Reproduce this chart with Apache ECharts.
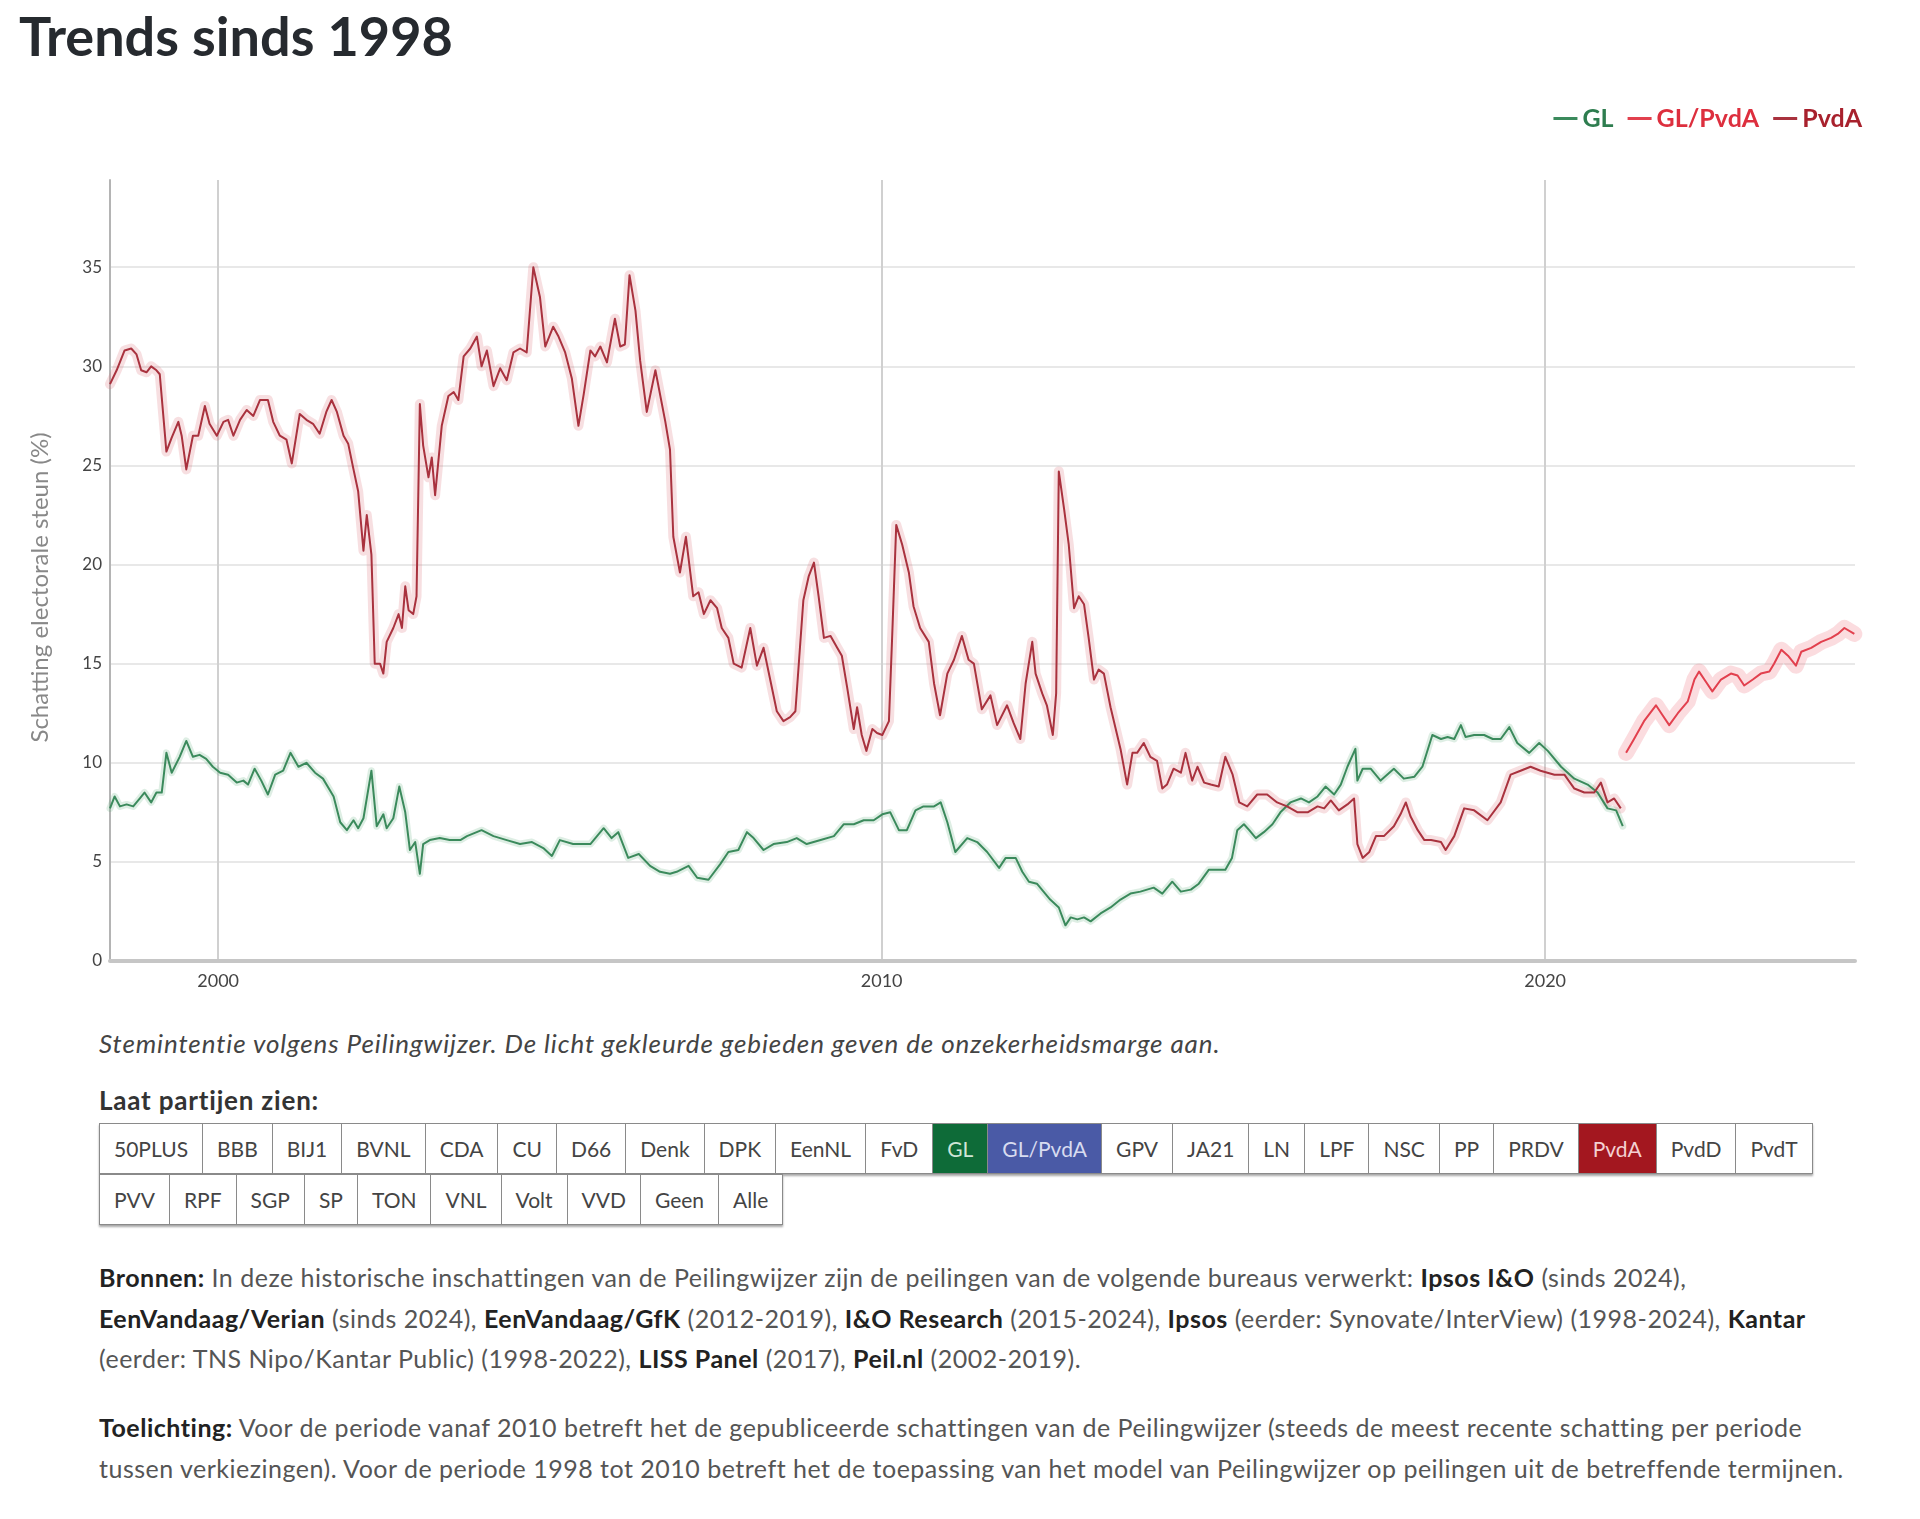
<!DOCTYPE html>
<html>
<head>
<meta charset="utf-8">
<script src="https://cdn.jsdelivr.net/npm/echarts@6/dist/echarts.min.js"></script>
<style>
  html, body { margin:0; padding:0; background:#fff; }
  body { width:1920px; height:1519px; position:relative; overflow:hidden; font-family: Lato, "Noto Sans", sans-serif; color:#444; }
  #chart { position:absolute; left:0; top:0; width:1920px; height:1010px; }
  .caption { position:absolute; left:99px; top:1027px; font-size:26px; letter-spacing:0.9px; font-style:italic; color:#444; white-space:nowrap; }
  .laat { position:absolute; left:99px; top:1084px; font-size:26px; letter-spacing:0.8px; font-weight:bold; color:#333; white-space:nowrap; }
  .row { position:absolute; left:99px; display:flex; box-shadow:0 2px 2px rgba(0,0,0,0.35); }
  .row div { height:49px; line-height:49px; padding:0 14px; font-size:21px; color:#444; border:1px solid #8a8a8a; border-left:none; background:#fff; white-space:nowrap; }
  .row div:first-child { border-left:1px solid #8a8a8a; }
  .row div.gl { background:#0e6b38; color:#cfe5d6; }
  .row div.glpvda { background:#4a5aa6; color:#d8dcf0; }
  .row div.pvda { background:#a3171f; color:#f3d0d2; }
  .para { position:absolute; left:99px; font-size:25px; letter-spacing:0.5px; line-height:40.5px; color:#555; white-space:nowrap; }
  .para b { color:#222; }
</style>
</head>
<body>
<div id="chart"></div>
<div class="caption">Stemintentie volgens Peilingwijzer. De licht gekleurde gebieden geven de onzekerheidsmarge aan.</div>
<div class="laat">Laat partijen zien:</div>
<div class="row" id="row1" style="top:1123px"></div>
<div class="row" id="row2" style="top:1174px"></div>
<div class="para" style="top:1257px">
<b>Bronnen:</b> In deze historische inschattingen van de Peilingwijzer zijn de peilingen van de volgende bureaus verwerkt: <b>Ipsos I&amp;O</b> (sinds 2024),<br>
<b>EenVandaag/Verian</b> (sinds 2024), <b>EenVandaag/GfK</b> (2012-2019), <b>I&amp;O Research</b> (2015-2024), <b>Ipsos</b> (eerder: Synovate/InterView) (1998-2024), <b>Kantar</b><br>
(eerder: TNS Nipo/Kantar Public) (1998-2022), <b>LISS Panel</b> (2017), <b>Peil.nl</b> (2002-2019).
</div>
<div class="para" style="top:1407px">
<b>Toelichting:</b> Voor de periode vanaf 2010 betreft het de gepubliceerde schattingen van de Peilingwijzer (steeds de meest recente schatting per periode<br>
tussen verkiezingen). Voor de periode 1998 tot 2010 betreft het de toepassing van het model van Peilingwijzer op peilingen uit de betreffende termijnen.
</div>
<script>
// ---- Data ----
const pvdaYears = [1998.37,1998.47,1998.59,1998.69,1998.77,1998.84,1998.92,1998.99,1999.07,1999.12,1999.22,1999.30,1999.40,1999.45,1999.52,1999.62,1999.70,1999.80,1999.87,1999.98,2000.08,2000.15,2000.23,2000.33,2000.43,2000.53,2000.63,2000.75,2000.83,2000.93,2001.03,2001.11,2001.23,2001.33,2001.43,2001.53,2001.63,2001.71,2001.79,2001.89,2001.96,2002.04,2002.11,2002.19,2002.24,2002.31,2002.36,2002.44,2002.49,2002.54,2002.64,2002.72,2002.77,2002.82,2002.87,2002.94,2002.99,2003.04,2003.09,2003.17,2003.22,2003.27,2003.37,2003.47,2003.55,2003.62,2003.70,2003.80,2003.90,2003.97,2004.05,2004.15,2004.25,2004.35,2004.45,2004.55,2004.65,2004.75,2004.85,2004.93,2005.05,2005.13,2005.23,2005.33,2005.43,2005.51,2005.61,2005.68,2005.76,2005.86,2005.98,2006.06,2006.13,2006.20,2006.29,2006.36,2006.46,2006.59,2006.74,2006.81,2006.86,2006.96,2007.05,2007.16,2007.24,2007.32,2007.42,2007.52,2007.59,2007.69,2007.77,2007.89,2008.02,2008.12,2008.22,2008.32,2008.42,2008.52,2008.62,2008.70,2008.82,2008.90,2008.98,2009.05,2009.13,2009.23,2009.33,2009.40,2009.48,2009.58,2009.63,2009.70,2009.77,2009.86,2009.93,2010.01,2010.11,2010.16,2010.22,2010.31,2010.41,2010.48,2010.58,2010.71,2010.79,2010.88,2010.99,2011.09,2011.21,2011.31,2011.39,2011.51,2011.64,2011.74,2011.89,2011.99,2012.09,2012.17,2012.27,2012.32,2012.42,2012.49,2012.58,2012.63,2012.67,2012.75,2012.82,2012.90,2012.97,2013.05,2013.12,2013.20,2013.27,2013.35,2013.45,2013.60,2013.70,2013.78,2013.85,2013.95,2014.05,2014.15,2014.23,2014.30,2014.40,2014.51,2014.58,2014.68,2014.76,2014.86,2014.96,2015.08,2015.18,2015.29,2015.39,2015.51,2015.66,2015.81,2015.96,2016.11,2016.27,2016.42,2016.57,2016.67,2016.77,2016.89,2017.02,2017.12,2017.17,2017.25,2017.35,2017.45,2017.57,2017.72,2017.82,2017.90,2017.97,2018.08,2018.18,2018.28,2018.43,2018.50,2018.63,2018.78,2018.93,2019.13,2019.33,2019.48,2019.63,2019.78,2019.93,2020.14,2020.29,2020.44,2020.59,2020.74,2020.84,2020.94,2021.04,2021.14];
const pvdaValues = [29.1,29.8,30.8,30.9,30.6,29.8,29.7,30.0,29.8,29.6,25.7,26.4,27.2,26.5,24.8,26.5,26.5,28.0,27.1,26.5,27.2,27.3,26.5,27.3,27.8,27.5,28.3,28.3,27.2,26.5,26.3,25.1,27.6,27.3,27.1,26.6,27.7,28.3,27.7,26.5,26.1,24.8,23.7,20.7,22.5,20.5,15.0,15.0,14.5,16.1,16.8,17.5,16.8,18.9,17.7,17.5,18.4,28.1,26.0,24.4,25.4,23.5,27.0,28.5,28.7,28.3,30.5,30.9,31.5,30.0,30.8,29.0,29.9,29.3,30.7,30.9,30.7,35.0,33.5,31.0,32.0,31.5,30.7,29.4,27.0,28.6,30.8,30.5,31.0,30.2,32.4,31.0,31.1,34.6,32.8,30.3,27.7,29.8,27.2,25.8,21.4,19.6,21.4,18.4,18.6,17.5,18.2,17.8,16.8,16.3,15.0,14.8,16.8,14.9,15.8,14.2,12.6,12.1,12.3,12.6,18.2,19.4,20.1,18.4,16.3,16.4,15.8,15.4,13.8,11.7,12.8,11.4,10.6,11.7,11.5,11.4,12.1,16.5,22.0,21.0,19.6,17.9,16.8,16.1,14.0,12.4,14.5,15.2,16.4,15.2,15.0,12.7,13.4,11.9,12.9,12.0,11.2,14.0,16.1,14.5,13.5,12.9,11.4,13.5,24.7,22.8,21.0,17.8,18.4,18.0,16.3,14.2,14.7,14.5,12.8,10.7,8.9,10.5,10.5,11.0,10.3,10.1,8.7,8.9,9.7,9.5,10.5,9.1,9.8,9.0,8.9,8.8,10.3,9.4,8.0,7.8,8.4,8.4,8.0,7.8,7.5,7.5,7.8,7.7,8.1,7.6,7.9,8.2,5.9,5.2,5.5,6.3,6.3,6.8,7.4,8.0,7.3,6.6,6.1,6.1,6.0,5.6,6.3,7.7,7.6,7.1,8.0,9.4,9.6,9.8,9.6,9.4,9.4,8.7,8.5,8.5,9.0,8.0,8.2,7.7];

const glYears = [1998.37,1998.44,1998.52,1998.62,1998.72,1998.82,1998.89,1998.99,1999.07,1999.15,1999.22,1999.30,1999.42,1999.52,1999.62,1999.72,1999.82,1999.92,2000.03,2000.15,2000.28,2000.38,2000.45,2000.55,2000.65,2000.75,2000.86,2000.98,2001.09,2001.21,2001.33,2001.46,2001.58,2001.74,2001.84,2001.94,2002.04,2002.11,2002.19,2002.31,2002.39,2002.49,2002.54,2002.64,2002.73,2002.82,2002.89,2002.97,2003.04,2003.09,2003.19,2003.34,2003.49,2003.65,2003.75,2003.97,2004.15,2004.35,2004.55,2004.73,2004.90,2005.03,2005.15,2005.35,2005.61,2005.81,2005.93,2006.03,2006.18,2006.34,2006.51,2006.66,2006.81,2006.91,2007.09,2007.22,2007.39,2007.57,2007.69,2007.84,2007.97,2008.07,2008.22,2008.37,2008.57,2008.72,2008.87,2009.08,2009.28,2009.43,2009.58,2009.73,2009.88,2010.01,2010.13,2010.26,2010.38,2010.51,2010.63,2010.79,2010.89,2010.99,2011.11,2011.29,2011.44,2011.59,2011.77,2011.87,2012.02,2012.12,2012.22,2012.34,2012.44,2012.54,2012.67,2012.77,2012.85,2012.95,2013.05,2013.15,2013.30,2013.45,2013.60,2013.75,2013.90,2014.10,2014.23,2014.38,2014.51,2014.66,2014.78,2014.93,2015.03,2015.18,2015.28,2015.36,2015.46,2015.54,2015.64,2015.76,2015.89,2016.01,2016.16,2016.32,2016.44,2016.57,2016.69,2016.82,2016.92,2017.02,2017.14,2017.17,2017.25,2017.37,2017.52,2017.72,2017.87,2018.03,2018.15,2018.30,2018.43,2018.53,2018.63,2018.73,2018.80,2018.93,2019.08,2019.21,2019.33,2019.46,2019.58,2019.76,2019.91,2020.04,2020.24,2020.44,2020.64,2020.79,2020.94,2021.07,2021.17];
const glValues = [7.7,8.3,7.8,7.9,7.8,8.2,8.5,8.0,8.5,8.5,10.5,9.5,10.3,11.1,10.3,10.4,10.2,9.8,9.5,9.4,9.0,9.1,8.9,9.7,9.1,8.4,9.4,9.6,10.5,9.8,10.0,9.5,9.2,8.3,7.0,6.6,7.1,6.7,7.2,9.6,6.8,7.4,6.7,7.2,8.8,7.5,5.6,6.0,4.4,5.9,6.1,6.2,6.1,6.1,6.3,6.6,6.3,6.1,5.9,6.0,5.7,5.3,6.1,5.9,5.9,6.7,6.2,6.5,5.2,5.4,4.8,4.5,4.4,4.5,4.8,4.2,4.1,4.9,5.5,5.6,6.5,6.2,5.6,5.9,6.0,6.2,5.9,6.1,6.3,6.9,6.9,7.1,7.1,7.4,7.5,6.6,6.6,7.6,7.8,7.8,8.0,7.0,5.5,6.2,6.0,5.5,4.7,5.2,5.2,4.5,4.0,3.9,3.5,3.1,2.7,1.8,2.2,2.1,2.2,2.0,2.4,2.7,3.1,3.4,3.5,3.7,3.4,4.0,3.5,3.6,3.9,4.6,4.6,4.6,5.2,6.6,6.9,6.6,6.2,6.5,6.9,7.5,8.0,8.2,8.0,8.3,8.8,8.4,8.9,9.8,10.7,9.1,9.7,9.7,9.1,9.7,9.2,9.3,9.8,11.4,11.2,11.3,11.2,11.9,11.3,11.4,11.4,11.2,11.2,11.8,11.0,10.5,11.0,10.6,9.8,9.2,8.9,8.5,7.7,7.6,6.8];

const glpvdaYears = [2021.22,2021.34,2021.49,2021.67,2021.77,2021.87,2022.00,2022.15,2022.25,2022.32,2022.42,2022.52,2022.65,2022.80,2022.90,2023.00,2023.13,2023.25,2023.38,2023.45,2023.56,2023.66,2023.78,2023.86,2024.01,2024.16,2024.31,2024.41,2024.51,2024.66];
const glpvdaValues = [10.5,11.2,12.1,12.9,12.4,11.9,12.5,13.1,14.2,14.6,14.1,13.6,14.2,14.5,14.4,13.9,14.2,14.5,14.6,15.0,15.7,15.4,14.9,15.6,15.8,16.1,16.3,16.5,16.8,16.5];

const xTickYears = [2000, 2010, 2020];
const seriesNames = ['GL', 'GL/PvdA', 'PvdA'];
const parties1 = ['50PLUS','BBB','BIJ1','BVNL','CDA','CU','D66','Denk','DPK','EenNL','FvD','GL','GL/PvdA','GPV','JA21','LN','LPF','NSC','PP','PRDV','PvdA','PvdD','PvdT'];
const parties2 = ['PVV','RPF','SGP','SP','TON','VNL','Volt','VVD','Geen','Alle'];

// ---- Buttons ----
const selClass = {'GL':'gl','GL/PvdA':'glpvda','PvdA':'pvda'};
function fillRow(id, list){
  const el = document.getElementById(id);
  list.forEach(p => { const d = document.createElement('div'); d.textContent = p; if (selClass[p]) d.className = selClass[p]; el.appendChild(d); });
}
fillRow('row1', parties1); fillRow('row2', parties2);

// ---- Chart ----
const zip = (xs, ys) => xs.map((x, i) => [x, ys[i]]);
const colors = { 'GL':'#3b8a5c', 'GL/PvdA':'#e2404e', 'PvdA':'#a9323e' };
const bandColors = { 'GL':'rgba(90,170,120,0.2)', 'GL/PvdA':'rgba(240,120,130,0.26)', 'PvdA':'rgba(220,110,120,0.22)' };
const bandWidths = { 'GL':7, 'GL/PvdA':16, 'PvdA':10 };
const dataMap = { 'GL': zip(glYears, glValues), 'GL/PvdA': zip(glpvdaYears, glpvdaValues), 'PvdA': zip(pvdaYears, pvdaValues) };

const series = [];
seriesNames.forEach(n => {
  series.push({ name: n + ' marge', type:'line', data: dataMap[n], showSymbol:false, silent:true, z:1,
    lineStyle:{ color: bandColors[n], width: bandWidths[n], join:'round', cap:'round' } });
});
seriesNames.forEach(n => {
  series.push({ name: n, type:'line', data: dataMap[n], showSymbol:false, z:3, color: colors[n],
    lineStyle:{ color: colors[n], width:2, join:'round' } });
});

const chart = echarts.init(document.getElementById('chart'));
chart.setOption({
  animation:false,
  title:{ text:'Trends sinds 1998', left:14, top:7,
    textStyle:{ fontFamily:'Lato', fontWeight:'bold', fontSize:54, color:'#262a2f' } },
  legend:{ right:53, top:101, icon:'rect', itemWidth:24, itemHeight:3, itemGap:14,
    textStyle:{ fontFamily:'Lato', fontWeight:'bold', fontSize:25 },
    data:[
      { name:'GL', textStyle:{ color:'#2e7d4f' } },
      { name:'GL/PvdA', textStyle:{ color:'#dd2f3e' } },
      { name:'PvdA', textStyle:{ color:'#a8212d' } }
    ] },
  grid:{ left:110, right:65, top:180, bottom:49 },
  xAxis:{ type:'value', min:1998.37, max:2024.67,
    axisLine:{ show:true, lineStyle:{ color:'#c6c6c6', width:4 } },
    axisTick:{ show:false, customValues: xTickYears },
    axisLabel:{ customValues: xTickYears, color:'#444', fontFamily:'Lato', fontSize:18, margin:11, formatter: v => String(Math.round(v)) },
    splitLine:{ show:true, lineStyle:{ color:'#d0d0d0', width:2 } } },
  yAxis:{ type:'value', min:0, max:39.4, interval:5,
    name:'Schatting electorale steun (%)', nameLocation:'middle', nameGap:58,
    nameTextStyle:{ color:'#888', fontFamily:'Lato', fontSize:24, padding:[0,34,0,0] },
    axisLine:{ show:true, lineStyle:{ color:'#b4b4b4', width:2 } },
    axisTick:{ show:false },
    axisLabel:{ showMaxLabel:false, color:'#444', fontFamily:'Lato', fontSize:17, margin:8 },
    splitLine:{ show:true, showMaxLine:false, showMinLine:false, lineStyle:{ color:'#e8e8e8', width:2 } } },
  series: series
});
</script>
</body>
</html>
